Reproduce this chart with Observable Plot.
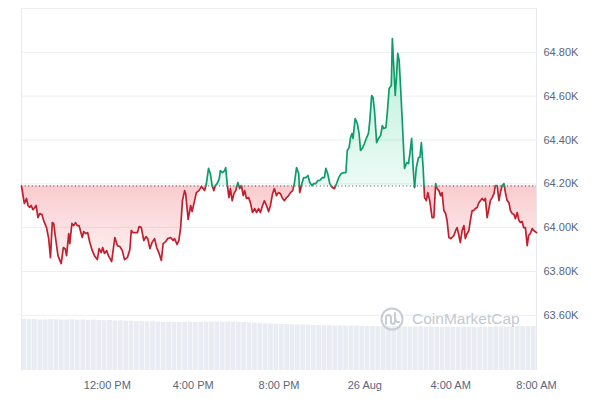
<!DOCTYPE html>
<html>
<head>
<meta charset="utf-8">
<script src="https://cdn.jsdelivr.net/npm/d3@7"></script>
<script src="https://cdn.jsdelivr.net/npm/@observablehq/plot@0.6"></script>
<style>
  html, body { margin: 0; padding: 0; background: #fff; }
  #wrap { position: relative; width: 600px; height: 399px; overflow: hidden; }
  #wrap svg { position: absolute; left: 0; top: 0; }
  #wm { position: absolute; left: 380px; top: 307px; display: flex; align-items: center; gap: 8px;
        font-family: "Liberation Sans", Arial, sans-serif; font-size: 15.5px; color: #c3c9d2; }
</style>
</head>
<body>
<div id="wrap"></div>
<script>
// ---- data (minutes after 25 Aug 2024 08:00, price in USD) ----
const minutes = [0,8,14,18,23,27,32,37,41,46,51,57,62,70,76,81,86,90,95,102,111,117,122,126,132,135,141,146,151,156,161,170,174,180,185,191,198,204,212,217,223,227,232,238,243,252,261,268,275,282,288,296,303,307,312,324,329,335,342,348,353,359,365,372,378,384,391,396,403,409,417,424,428,435,440,445,450,456,459,466,473,477,484,489,496,503,508,512,517,523,528,533,538,542,547,553,556,562,568,571,575,580,584,589,594,599,605,610,615,620,624,629,635,640,646,652,657,663,668,674,679,685,691,696,702,707,713,719,724,730,735,741,747,752,758,763,769,775,778,784,789,795,801,806,812,817,823,829,834,841,847,851,856,862,869,875,881,887,894,901,907,911,916,920,924,927,933,939,944,948,954,959,965,970,974,979,983,987,993,998,1004,1009,1013,1019,1024,1028,1034,1037,1041,1045,1049,1052,1056,1060,1065,1071,1077,1082,1086,1091,1095,1099,1104,1110,1114,1118,1123,1127,1132,1136,1142,1148,1153,1158,1162,1167,1172,1176,1181,1186,1190,1195,1200,1204,1209,1214,1218,1223,1227,1232,1237,1241,1246,1251,1255,1260,1265,1269,1274,1279,1283,1288,1293,1297,1302,1307,1311,1316,1321,1325,1330,1335,1339,1344,1349,1353,1358,1363,1367,1372,1377,1381,1386,1391,1395,1400,1404,1409,1414,1418,1423,1428,1432,1440];
const prices = [64190,64110,64133,64101,64092,64101,64082,64092,64101,64046,64064,64060,64032,64000,63950,63863,64023,64019,63955,63872,63836,63909,63904,63872,63973,63927,64019,64009,64023,64009,64009,63955,63982,63973,63977,63932,63895,63872,63854,63904,63886,63909,63882,63895,63872,63845,63955,63918,63914,63895,63854,63863,63900,63987,63977,63977,64005,64000,63941,63959,63950,63904,63932,63950,63909,63886,63850,63927,63936,63950,63955,63941,63950,63923,63941,64000,64123,64169,64155,64037,64101,64073,64123,64160,64169,64187,64178,64169,64201,64270,64247,64192,64169,64192,64201,64224,64260,64251,64260,64274,64201,64137,64178,64123,64155,64169,64206,64178,64192,64146,64169,64133,64137,64114,64069,64087,64069,64087,64069,64101,64123,64101,64073,64101,64155,64178,64146,64160,64155,64133,64123,64137,64146,64160,64169,64201,64274,64247,64160,64201,64228,64228,64238,64206,64192,64201,64201,64215,64215,64228,64228,64270,64247,64201,64183,64178,64201,64228,64247,64251,64251,64352,64365,64411,64429,64407,64498,64475,64429,64352,64365,64384,64411,64429,64489,64603,64594,64534,64388,64407,64420,64466,64452,64457,64548,64635,64649,64863,64731,64603,64703,64795,64763,64639,64475,64270,64297,64292,64338,64407,64274,64183,64274,64320,64320,64388,64274,64137,64123,64160,64119,64046,64046,64201,64178,64169,64146,64160,64078,64064,64032,63955,63950,63955,63964,63987,64000,63964,63932,63987,64009,63950,63973,63987,64032,64078,64078,64087,64092,64114,64123,64133,64123,64133,64046,64087,64123,64137,64155,64192,64192,64123,64160,64192,64201,64160,64123,64114,64078,64064,64060,64041,64069,64032,64023,64028,64000,64000,63918,63964,63973,63996,63987,63977];
// 24h volume (billions USD), one value per 15-minute bar
const volume = [21.6,21.5,21.6,21.4,21.5,21.6,21.5,21.4,
  21.4,21.5,21.3,21.4,21.2,21.3,21.2,21.1,21.2,21.0,21.1,20.9,
  20.9,20.7,20.8,20.6,20.7,
  20.5,20.4,20.5,20.4,20.3,20.4,20.5,20.3,20.4,20.5,20.6,
  20.6,20.5,20.6,20.5,20.4,20.3,20.2,20.1,
  19.9,19.8,19.7,19.6,19.5,19.5,19.4,19.3,19.3,
  19.2,19.1,19.1,19.0,19.0,18.9,18.9,18.8,18.8,18.8,18.7,18.7,18.7,18.6,18.6,
  18.6,18.5,18.5,18.5,18.4,18.4,18.5,18.4,18.4,18.4,18.3,18.4,18.3,18.3,18.4,18.3,18.3,18.3,18.4,18.4,18.5,18.5,18.4,18.5,18.6,18.6,18.5,18.6];
const yTicks = [63600,63800,64000,64200,64400,64600,64800];
const yTickLabels = ["63.60K","63.80K","64.00K","64.20K","64.40K","64.60K","64.80K"];
const gridValues = [63600,63800,64000,64200,64400,64600,64800,65000];
const xTickHours = [4,8,12,16,20,24]; // hours after start
const xTickLabels = ["12:00 PM","4:00 PM","8:00 PM","26 Aug","4:00 AM","8:00 AM"];

const start = Date.UTC(2024,7,25,8,0);
const end = Date.UTC(2024,7,26,8,0);
const base = prices[0];
const RED = "#c11f2d", GREEN = "#0f9c6b";

const pts = minutes.map((m,i)=>({t:new Date(start+m*60000), p:prices[i]}));
// insert baseline crossings and split into signed runs
const seq = [];
pts.forEach((b,i)=>{
  if(i>0){
    const a = pts[i-1];
    if((a.p-base)*(b.p-base)<0){
      const f = (base-a.p)/(b.p-a.p);
      seq.push({t:new Date(+a.t + f*(b.t-a.t)), p:base});
    }
  }
  seq.push(b);
});
const sgn = p => p>base?1:p<base?-1:0;
const rows = []; let run = 0, cur = 0, buf = [];
function flush(){ if(buf.length){ const s = cur||-1; buf.forEach(d=>rows.push({t:d.t,p:d.p,run,sign:s})); run++; } }
for(const d of seq){
  const s = sgn(d.p);
  if(s===0){ buf.push(d); if(cur!==0){ flush(); buf=[d]; cur=0; } continue; }
  if(cur===0){ cur=s; buf.push(d); }
  else if(s===cur) buf.push(d);
  else { flush(); buf=[d]; cur=s; }
}
flush();
const up = rows.filter(d=>d.sign>0), down = rows.filter(d=>d.sign<0);

const xTicks = xTickHours.map(h=>new Date(start+h*3600000));
const xFmt = d => xTickLabels[xTicks.findIndex(t=>+t===+d)];
const yFmt = d => yTickLabels[yTicks.indexOf(d)];

const common = {width:600, height:399, marginLeft:21, marginRight:64, marginBottom:29};
const xScale = {type:"utc", domain:[new Date(start), new Date(end)]};

// volume layer
const volPlot = Plot.plot({
  ...common, marginTop:311,
  style:{background:"transparent"},
  x:{...xScale, axis:null},
  y:{domain:[0,25], axis:null},
  marks:[
    Plot.rectY(volume, {x1:(d,i)=>new Date(start+i*900000), x2:(d,i)=>new Date(start+(i+1)*900000), y1:0, y2:d=>d, fill:"#e9edf3", insetLeft:0.3, insetRight:0.3})
  ]
});

// price layer
const chart = Plot.plot({
  ...common, marginTop:8,
  style:{background:"transparent", fontFamily:"'Liberation Sans', Arial, sans-serif", fontSize:"11px", color:"#58667e"},
  x:{...xScale, ticks:xTicks, tickFormat:xFmt, tickSize:0, tickPadding:11, label:null},
  y:{domain:[63348,65000], ticks:yTicks, tickFormat:yFmt, tickSize:0, tickPadding:7, axis:"right", label:null},
  marks:[
    Plot.ruleY(gridValues, {stroke:"#eceff3", strokeWidth:1}),
    Plot.ruleX([new Date(start), new Date(end)], {stroke:"#e6e9ee", strokeWidth:1}),
    Plot.areaY(up, {x:"t", y1:()=>base, y2:"p", z:"run", fill:"url(#gGreen)"}),
    Plot.areaY(down, {x:"t", y1:()=>base, y2:"p", z:"run", fill:"url(#gRed)"}),
    Plot.ruleY([base], {stroke:"#444", strokeWidth:1, strokeDasharray:"1 2.6"}),
    Plot.line(down, {x:"t", y:"p", z:"run", stroke:RED, strokeWidth:1.7, strokeLinejoin:"round"}),
    Plot.line(up, {x:"t", y:"p", z:"run", stroke:GREEN, strokeWidth:1.7, strokeLinejoin:"round"})
  ]
});

const ys = chart.scale("y");
const yBase = ys.apply(base), yTop = ys.apply(d3.max(prices)), yBot = ys.apply(d3.min(prices));
const defs = document.createElementNS("http://www.w3.org/2000/svg","defs");
defs.innerHTML = `
<linearGradient id="gGreen" gradientUnits="userSpaceOnUse" x1="0" x2="0" y1="${yTop}" y2="${yBase}">
  <stop offset="0" stop-color="#16c784" stop-opacity="0.30"/>
  <stop offset="1" stop-color="#16c784" stop-opacity="0.08"/>
</linearGradient>
<linearGradient id="gRed" gradientUnits="userSpaceOnUse" x1="0" x2="0" y1="${yBase}" y2="${yBot}">
  <stop offset="0" stop-color="#ea3943" stop-opacity="0.26"/>
  <stop offset="1" stop-color="#ea3943" stop-opacity="0.06"/>
</linearGradient>`;
chart.insertBefore(defs, chart.firstChild);

const wrap = document.getElementById("wrap");
wrap.appendChild(volPlot);
wrap.appendChild(chart);

const wm = document.createElement("div");
wm.id = "wm";
wm.innerHTML = `<svg width="24" height="24" viewBox="-12 -12 24 24" style="position:static">
  <circle r="10.5" fill="none" stroke="#c8cdd5" stroke-width="2"/>
  <path d="M-6,5 V-1 Q-6,-4 -3.5,-4 Q-1,-4 -1,-1 V3 Q-1,5 1,5 Q3,5 3,2 V-6 M3,-1 Q4,4 7,3" fill="none" stroke="#c8cdd5" stroke-width="2" stroke-linecap="round"/>
</svg><span>CoinMarketCap</span>`;
wrap.appendChild(wm);
</script>
</body>
</html>
